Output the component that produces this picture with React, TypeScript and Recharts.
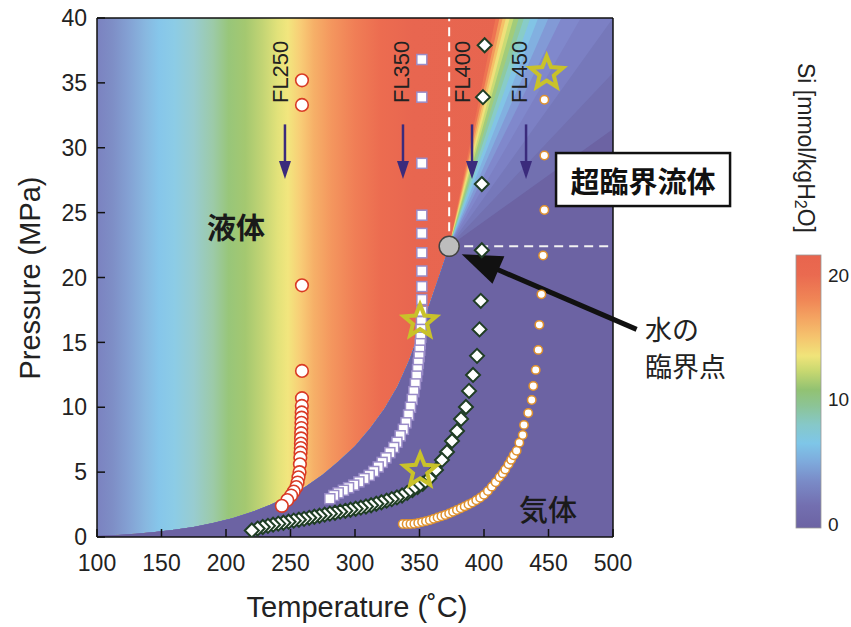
import React from 'react';
import { ComposedChart, Area, Scatter, XAxis, YAxis, ReferenceLine, ReferenceDot } from 'recharts';

const FONT = '"Liberation Sans", Arial, Helvetica, sans-serif';
const CJK = '"Noto Sans CJK JP", "Noto Sans CJK SC", sans-serif';

// axes
const xTicks = [100, 150, 200, 250, 300, 350, 400, 450, 500];
const yTicks = [0, 5, 10, 15, 20, 25, 30, 35, 40];

// liquid-field colour by temperature
const liqStopT = [100, 112, 125, 138, 148, 160, 175, 190, 202, 215, 228, 240, 248, 258, 268, 282, 300, 320, 345, 500];
const liqStopColor = ['#7b82c0', '#7e8ec6', '#84a2d4', '#88b8e0', '#86c6ea', '#8ccce6', '#98ccd0', '#9ccaa8', '#98c67a', '#a4c870', '#c2d474', '#e2e27a', '#f2e67e', '#f8cc76', '#f6b068', '#f4965e', '#f07e56', '#ec6c50', '#e86650', '#e6644e'];

// vapour boundary (boiling curve)
const boilT = [100, 115, 130, 145, 160, 175, 190, 205, 220, 235, 250, 262, 275, 287, 300, 312, 323, 333, 342, 350, 358, 366, 373];
const boilP = [0.1, 0.15, 0.25, 0.38, 0.55, 0.78, 1.08, 1.45, 1.92, 2.5, 3.2, 3.9, 4.8, 5.8, 7.0, 8.4, 9.9, 11.6, 13.6, 15.8, 18.0, 20.3, 22.4];
const critT = 373;
const critP = 22.4;

// supercritical fan: temperature where each colour band meets P = 40
const fanTopT = [409, 412, 414.5, 417, 420, 423, 427, 431, 436, 442, 450, 460, 475, 500, 540, 620];
const fanColor = ['#ee7452', '#f29a5c', '#f5c068', '#efe07a', '#cadb74', '#a2cc7a', '#8ecaa0', '#88ccc8', '#82c4e6', '#82b0e0', '#829ad6', '#8088cc', '#7c80c4', '#7678ba', '#7270b0', '#6c63a3'];

// experiment paths
const fl250T = [258.9, 258.9, 258.9, 258.9, 258.9, 258.8, 258.7, 258.6, 258.5, 258.4, 258.3, 258.2, 258.1, 258.0, 257.8, 257.6, 257.3, 257.0, 256.2, 255.5, 254.5, 252.5, 250.5, 247.5, 243.3];
const fl250P = [35.2, 33.3, 19.4, 12.8, 10.7, 10.1, 9.6, 9.2, 8.8, 8.4, 8.0, 7.6, 7.2, 6.85, 6.5, 6.1, 5.6, 5.0, 4.6, 4.2, 3.85, 3.5, 3.2, 2.85, 2.4];

const fl350T = [351.8, 351.8, 351.8, 351.8, 351.8, 351.8, 351.8, 351.8, 351.8, 351.8, 351.5, 351.2, 351.0, 350.6, 350.2, 349.7, 349.1, 348.5, 347.8, 346.8, 345.6, 344.4, 343.0, 341.5, 339.5, 337.5, 335.0, 332.5, 330.0, 327.0, 324.0, 321.0, 318.0, 314.5, 311.0, 307.0, 303.0, 299.0, 295.0, 291.0, 287.0, 283.5, 280.5];
const fl350P = [36.8, 33.9, 28.8, 24.8, 23.4, 21.9, 20.5, 19.3, 18.3, 17.4, 16.6, 16.0, 15.4, 14.9, 14.4, 13.9, 13.4, 12.9, 12.4, 11.8, 11.2, 10.6, 10.0, 9.4, 8.8, 8.3, 7.8, 7.3, 6.9, 6.5, 6.1, 5.75, 5.4, 5.05, 4.75, 4.5, 4.25, 4.0, 3.8, 3.6, 3.4, 3.2, 2.95];

const fl400T = [400.5, 399.2, 398.3, 398.3, 397.5, 396.5, 394.6, 391.5, 388.4, 386.0, 382.2, 379.1, 375.2, 371.3, 367.4, 362.8, 357.6, 352.5, 348.5, 344.5, 340.5, 336.5, 332.5, 328.5, 324.5, 320.5, 316.5, 312.5, 308.5, 304.5, 300.5, 296.5, 292.5, 288.5, 284.5, 280.5, 276.5, 272.5, 268.5, 264.5, 260.5, 256.5, 252.5, 248.5, 244.5, 240.5, 236.5, 232.5, 228.5, 224.5, 220.0];
const fl400P = [37.9, 33.9, 27.2, 22.1, 18.2, 16.0, 13.96, 12.49, 11.26, 10.02, 9.1, 8.17, 7.4, 6.55, 5.94, 5.17, 4.53, 4.1, 3.85, 3.62, 3.4, 3.2, 3.05, 2.92, 2.8, 2.68, 2.56, 2.45, 2.35, 2.26, 2.18, 2.1, 2.02, 1.95, 1.87, 1.8, 1.72, 1.64, 1.56, 1.48, 1.4, 1.33, 1.26, 1.18, 1.1, 1.03, 0.95, 0.86, 0.77, 0.65, 0.5];

const fl450T = [337, 340, 343, 346, 349, 352, 355, 358, 361, 364, 367, 370, 373, 376, 379, 382, 385, 388, 391, 394, 397, 400, 403, 406, 409, 412, 414.5, 416.5, 419, 421, 423, 425.3, 427.4, 430, 431, 434.3, 437, 438.2, 440.1, 442.1, 442.9, 444.5, 445.8, 446.8, 446.8, 446.8];
const fl450P = [1.0, 1.0, 1.0, 1.02, 1.08, 1.15, 1.22, 1.3, 1.4, 1.5, 1.6, 1.7, 1.82, 1.95, 2.08, 2.22, 2.36, 2.5, 2.65, 2.83, 3.02, 3.25, 3.55, 3.88, 4.22, 4.6, 4.9, 5.2, 5.6, 5.95, 6.3, 6.65, 7.27, 7.86, 8.64, 9.56, 10.56, 11.64, 12.88, 14.42, 16.35, 18.7, 21.7, 25.2, 29.4, 33.7];

const starT = [350.4, 350.5, 448.6];
const starP = [16.6, 5.1, 35.75];

// labels / annotations (data coordinates)
const flNames = ['FL250', 'FL350', 'FL400', 'FL450'];
const flLabelT = [241.9, 336.4, 383.7, 427.9];
const flLabelP = 35.85;
const flArrowT = [245.7, 337.2, 390.7, 432.6];
const flArrowTopP = 31.8;
const flArrowBotP = 27.6;

const critArrowFrom = { x: 518.3, y: 16.0 };
const critArrowTo = { x: 382.7, y: 21.8 };

// colour bar
const cbTicks = [0, 10, 20];
const cbStopV = [21.5, 20, 18, 16.5, 15, 13.5, 12.3, 10.8, 9.5, 8, 6.5, 5, 3.5, 1.5, -0.3];
const cbStopColor = ['#e8654e', '#ea6a50', '#f08656', '#f4a562', '#f5c46e', '#f0e47a', '#c8d870', '#92c272', '#8cc496', '#86c8c8', '#7ec6e8', '#7eaadc', '#7a8cc8', '#736fb0', '#6c63a3'];

const pts = (ts: number[], ps: number[]) => ts.map((t, i) => ({ t, p: ps[i] }));

const fanData = (tTop: number) => {
  const d = pts(boilT, boilP);
  if (tTop <= 500) {
    d.push({ t: tTop, p: 40 });
    if (tTop < 500) d.push({ t: 500, p: 40 });
  } else {
    d.push({ t: 500, p: critP + ((40 - critP) * (500 - critT)) / (tTop - critT) });
  }
  return d;
};

const liqData = [
  { t: 100, p: 40 },
  { t: 500, p: 40 },
];

const circleShape = (r: number, stroke: string, sw: number) => (props: any) => (
  <circle cx={props.cx} cy={props.cy} r={r} fill="#fff" stroke={stroke} strokeWidth={sw} />
);
const squareShape = (s: number, stroke: string) => (props: any) => (
  <rect x={props.cx - s / 2} y={props.cy - s / 2} width={s} height={s} fill="#fff" stroke={stroke} strokeWidth={1.5} />
);
const diamondShape = (h: number, stroke: string) => (props: any) => {
  const { cx, cy } = props;
  return (
    <polygon
      points={`${cx},${cy - h} ${cx + h},${cy} ${cx},${cy + h} ${cx - h},${cy}`}
      fill="#fff"
      stroke={stroke}
      strokeWidth={2}
    />
  );
};
const starShape = (R: number, r: number) => (props: any) => {
  const { cx, cy } = props;
  const p: string[] = [];
  for (let i = 0; i < 10; i++) {
    const a = -Math.PI / 2 + (i * Math.PI) / 5;
    const rr = i % 2 === 0 ? R : r;
    p.push(`${cx + rr * Math.cos(a)},${cy + rr * Math.sin(a)}`);
  }
  return <polygon points={p.join(' ')} fill="none" stroke="#c9c22a" strokeWidth={4} strokeLinejoin="miter" />;
};

const arrowShape = (color: string, w: number, hl: number, hw: number) => (props: any) => {
  const { x1, y1, x2, y2 } = props;
  const dx = x2 - x1;
  const dy = y2 - y1;
  const len = Math.hypot(dx, dy) || 1;
  const ux = dx / len;
  const uy = dy / len;
  const bx = x2 - ux * hl;
  const by = y2 - uy * hl;
  const px = -uy;
  const py = ux;
  return (
    <g>
      <line x1={x1} y1={y1} x2={bx + ux * 1} y2={by + uy * 1} stroke={color} strokeWidth={w} />
      <polygon
        points={`${x2},${y2} ${bx + (px * hw) / 2},${by + (py * hw) / 2} ${bx - (px * hw) / 2},${by - (py * hw) / 2}`}
        fill={color}
      />
    </g>
  );
};

const textShape = (content: React.ReactNode, opts: any) => (props: any) => (
  <text
    x={props.cx}
    y={props.cy}
    textAnchor={opts.anchor || 'middle'}
    dominantBaseline="central"
    fontFamily={opts.family || CJK}
    fontSize={opts.size}
    fontWeight={opts.weight || 'normal'}
    fill={opts.fill || '#222'}
    transform={opts.rotate ? `rotate(${opts.rotate}, ${props.cx}, ${props.cy})` : undefined}
  >
    {content}
  </text>
);

const boxShape = (props: any) => {
  const { cx, cy } = props;
  const w = 174;
  const h = 53;
  return (
    <g>
      <rect x={cx - w / 2} y={cy - h / 2} width={w} height={h} fill="#fff" stroke="#111" strokeWidth={2.5} />
      <text x={cx} y={cy} textAnchor="middle" dominantBaseline="central" fontFamily={CJK} fontSize={29} fontWeight="bold" fill="#111">
        超臨界流体
      </text>
    </g>
  );
};

const tickStyle = { fill: '#222', fontSize: 23, fontFamily: FONT };
const lineStyle = { stroke: '#111', strokeWidth: 1.5 };

export default function App() {
  const cbTop = 255;
  const cbBottom = 528;
  const cbMax = 21.6;
  const cbMin = -0.3;
  const cbZeroY = 524;
  const cbTwentyY = 275;
  const cbY = (v: number) => cbZeroY - (v / 20) * (cbZeroY - cbTwentyY);
  return (
    <div style={{ position: 'absolute', left: 0, top: 0, width: 851, height: 627, background: '#fff' }}>
      <ComposedChart width={851} height={627} margin={{ top: 17, right: 237, bottom: 50, left: 37 }}>
        <defs>
          <linearGradient id="liqGrad" x1="0" y1="0" x2="1" y2="0">
            {liqStopT.map((t, i) => (
              <stop key={i} offset={(t - 100) / 400} stopColor={liqStopColor[i]} />
            ))}
          </linearGradient>
        </defs>
        <Area data={liqData} dataKey="p" type="linear" fill="url(#liqGrad)" fillOpacity={1} stroke="none" isAnimationActive={false} dot={false} activeDot={false} />
        {fanTopT.map((tt, i) => (
          <Area
            key={'fan' + i}
            data={fanData(tt)}
            dataKey="p"
            type="linear"
            fill={fanColor[i]}
            fillOpacity={1}
            stroke="none"
            isAnimationActive={false}
            dot={false}
            activeDot={false}
          />
        ))}
        <XAxis
          dataKey="t"
          type="number"
          domain={[100, 500]}
          allowDataOverflow
          ticks={xTicks}
          interval={0}
          height={40}
          tickSize={-8}
          tickMargin={26}
          tick={tickStyle}
          axisLine={lineStyle}
          tickLine={lineStyle}
        />
        <XAxis
          xAxisId="top"
          orientation="top"
          dataKey="t"
          type="number"
          domain={[100, 500]}
          allowDataOverflow
          ticks={xTicks}
          interval={0}
          height={1}
          tickSize={-8}
          tick={false}
          axisLine={lineStyle}
          tickLine={lineStyle}
        />
        <YAxis
          dataKey="p"
          type="number"
          domain={[0, 40]}
          allowDataOverflow
          ticks={yTicks}
          interval={0}
          width={60}
          tickSize={-8}
          tickMargin={18}
          tick={tickStyle}
          axisLine={lineStyle}
          tickLine={lineStyle}
        />
        <YAxis
          yAxisId="right"
          orientation="right"
          dataKey="p"
          type="number"
          domain={[0, 40]}
          allowDataOverflow
          ticks={yTicks}
          interval={0}
          width={1}
          tickSize={-8}
          tick={false}
          axisLine={lineStyle}
          tickLine={lineStyle}
        />
        <ReferenceLine
          segment={[{ x: critT, y: critP }, { x: critT, y: 40 }]}
          stroke="#fff"
          strokeWidth={2}
          strokeDasharray="9 6"
          ifOverflow="visible"
        />
        <ReferenceLine
          segment={[{ x: critT, y: critP }, { x: 500, y: critP }]}
          stroke="#f2f2f2"
          strokeWidth={2}
          strokeDasharray="9 6"
          ifOverflow="visible"
        />
        <Scatter data={pts(fl250T, fl250P)} shape={circleShape(6.3, '#d93a25', 1.6)} isAnimationActive={false} />
        <Scatter data={pts(fl350T, fl350P)} shape={squareShape(10, '#9a8cc8')} isAnimationActive={false} />
        <Scatter data={pts(fl400T, fl400P)} shape={diamondShape(7, '#1f3d24')} isAnimationActive={false} />
        <Scatter data={pts(fl450T, fl450P)} shape={circleShape(4.2, '#e0922e', 1.5)} isAnimationActive={false} />
        <Scatter data={pts(starT, starP)} shape={starShape(17, 7.5)} isAnimationActive={false} />
        {flArrowT.map((t, i) => (
          <ReferenceLine
            key={'fla' + i}
            segment={[{ x: t, y: flArrowTopP }, { x: t, y: flArrowBotP }]}
            ifOverflow="visible"
            shape={arrowShape('#3b2b7c', 2.5, 18, 12)}
          />
        ))}
        {flNames.map((n, i) => (
          <ReferenceDot
            key={'fll' + i}
            x={flLabelT[i]}
            y={flLabelP}
            r={0}
            ifOverflow="visible"
            shape={textShape(n, { family: FONT, size: 22, rotate: -90, fill: '#222' })}
          />
        ))}
        <ReferenceLine segment={[critArrowFrom, critArrowTo]} ifOverflow="visible" shape={arrowShape('#111', 5, 40, 30)} />
        <ReferenceDot x={critT} y={critP} r={10} fill="#bdbdbd" stroke="#444" strokeWidth={1.5} ifOverflow="visible" />
        <ReferenceDot x={207.8} y={24.0} r={0} ifOverflow="visible" shape={textShape('液体', { size: 29, weight: 'bold', fill: '#1a1a1a' })} />
        <ReferenceDot x={449.6} y={2.2} r={0} ifOverflow="visible" shape={textShape('気体', { size: 29, weight: 500, fill: '#1a1a1a' })} />
        <ReferenceDot x={523.3} y={27.55} r={0} ifOverflow="visible" shape={boxShape} />
        <ReferenceDot x={524.8} y={16.1} r={0} ifOverflow="visible" shape={textShape('水の', { size: 27, anchor: 'start' })} />
        <ReferenceDot x={524.8} y={13.2} r={0} ifOverflow="visible" shape={textShape('臨界点', { size: 27, anchor: 'start' })} />
      </ComposedChart>
      <svg width={851} height={627} style={{ position: 'absolute', left: 0, top: 0, pointerEvents: 'none' }}>
        <defs>
          <linearGradient id="cbGrad" x1="0" y1="0" x2="0" y2="1">
            {cbStopV.map((v, i) => (
              <stop key={i} offset={(cbMax - v) / (cbMax - cbMin)} stopColor={cbStopColor[i]} />
            ))}
          </linearGradient>
        </defs>
        <text x={30} y={278} transform="rotate(-90, 30, 278)" textAnchor="middle" dominantBaseline="central" fontFamily={FONT} fontSize={29} fill="#222">
          Pressure (MPa)
        </text>
        <text x={357} y={607} textAnchor="middle" dominantBaseline="central" fontFamily={FONT} fontSize={29} fill="#222">
          Temperature (˚C)
        </text>
        <rect x={796} y={cbTop} width={25} height={cbBottom - cbTop} fill="url(#cbGrad)" stroke="#999" strokeWidth={0.8} />
        {cbTicks.map((v) => (
          <text key={v} x={828} y={cbY(v)} dominantBaseline="central" fontFamily={FONT} fontSize={19} fill="#222">
            {v}
          </text>
        ))}
        <text x={806} y={148} transform="rotate(90, 806, 148)" textAnchor="middle" dominantBaseline="central" fontFamily={FONT} fontSize={23} fill="#222">
          <tspan>Si [mmol/kgH</tspan>
          <tspan fontSize={16} dy={5}>2</tspan>
          <tspan dy={-5}>O]</tspan>
        </text>
      </svg>
    </div>
  );
}
